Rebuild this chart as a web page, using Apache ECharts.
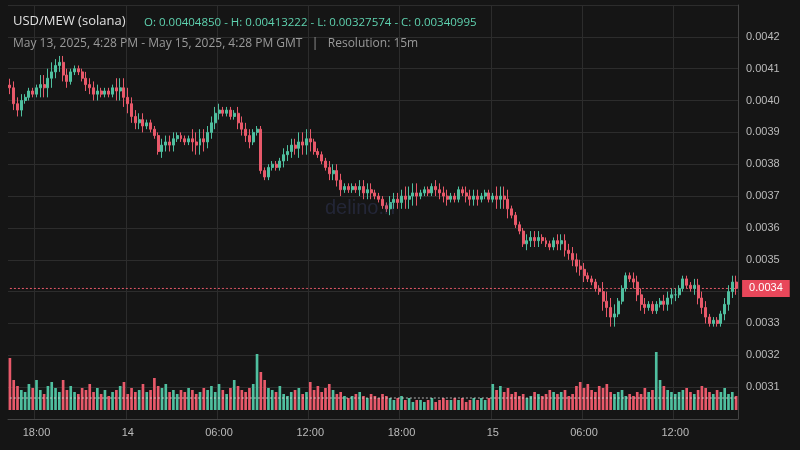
<!DOCTYPE html>
<html><head><meta charset="utf-8">
<script src="https://cdn.jsdelivr.net/npm/echarts@6/dist/echarts.min.js"></script>
<style>html,body{margin:0;background:#151515}#c{width:800px;height:450px}</style>
</head><body><div id="c"></div>
<script>
const startOpen = 0.0040485;
const lastClose = 0.00340995;
const closes = [
0.00404,0.00399,0.00397,0.00400, 0.00401,0.00403,0.00402,0.00404, 0.00405,0.00404,0.00407,0.00409,
0.00411,0.00412,0.00408,0.00406, 0.00409,0.00410,0.00409,0.00407, 0.00405,0.00404,0.00402,0.00403,
0.00402,0.00403,0.00402,0.00404, 0.00403,0.00404,0.00401,0.00399, 0.00395,0.00393,0.00394,0.00392,
0.00393,0.00391,0.00389,0.00384, 0.00386,0.00387,0.00386,0.00388, 0.00389,0.00388,0.00387,0.00388,
0.00387,0.00386,0.00388,0.00387, 0.00390,0.00393,0.00396,0.00397, 0.00396,0.00397,0.00395,0.00396,
0.00393,0.00391,0.00389,0.00387, 0.00390,0.00391,0.00378,0.00376, 0.00379,0.00380,0.00379,0.00381,
0.00383,0.00384,0.00386,0.00385, 0.00387,0.00386,0.00388,0.00387, 0.00384,0.00383,0.00381,0.00379,
0.00377,0.00378,0.00375,0.00372, 0.00373,0.00372,0.00373,0.00372, 0.00373,0.00371,0.00372,0.00371,
0.00370,0.00369,0.00367,0.00366, 0.00368,0.00369,0.00368,0.00370, 0.00369,0.00370,0.00371,0.00370,
0.00371,0.00372,0.00371,0.00373, 0.00372,0.00371,0.00370,0.00369, 0.00370,0.00369,0.00372,0.00371,
0.00370,0.00369,0.00370,0.00369, 0.00370,0.00371,0.00369,0.00370, 0.00369,0.00370,0.00369,0.00366,
0.00364,0.00361,0.00359,0.00355, 0.00356,0.00357,0.00356,0.00357, 0.00356,0.00355,0.00354,0.00356,
0.00355,0.00356,0.00353,0.00352, 0.00350,0.00348,0.00347,0.00345, 0.00344,0.00343,0.00341,0.00340,
0.00337,0.00335,0.00332,0.00333, 0.00337,0.00341,0.00345,0.00344, 0.00343,0.00339,0.00336,0.00335,
0.00336,0.00334,0.00336,0.00337, 0.00336,0.00338,0.00339,0.00339, 0.00341,0.00344,0.00342,0.00341,
0.00342,0.00338,0.00335,0.00332, 0.00330,0.00331,0.00330,0.00333, 0.00336,0.00340,0.00343,0.00341];
const wicks = [2,1,3,2,1,2,1,3,2,1,2,1,3,2,1,2,1,1,2,3,1,2,1,2,1,2,3,1,2,1,2,1,3,1,2,1,2,2,1,3,1,2,1,2,1,2,1,2];
const volumes = [
52,30,24,20, 18,26,22,30, 20,16,24,28, 22,18,30,20, 24,18,16,22, 20,26,18,22,
16,20,14,18, 20,24,28,16, 22,18,20,26, 18,20,32,24, 22,26,18,20, 16,20,18,22,
20,16,18,22, 20,24,18,26, 20,16,22,30, 24,20,18,22, 26,56,38,30, 22,20,18,24,
16,14,18,20, 22,16,18,28, 20,24,18,22, 26,20,16,18, 14,12,14,16, 18,14,12,16,
14,12,16,14, 12,10,12,14, 10,12,8,10, 10,8,10,12, 8,10,12,10, 10,12,10,12,
8,10,12,10, 12,10,12,26, 20,24,18,22, 16,18,14,16, 12,14,18,16, 14,16,20,18,
16,18,20,14, 16,24,28,22, 26,20,18,24, 22,26,18,16, 18,20,14,16, 14,18,16,22,
18,20,58,30, 24,20,18,16, 18,20,22,18, 16,20,24,22, 18,16,20,18, 22,16,18,14];
const volumeAverage = 12;
const cats=[], ohlc=[], vols=[];
let t = Date.UTC(2025,4,13,16,15);
let prev = startOpen;
for (let i=0;i<closes.length;i++){
  const d=new Date(t+i*900000);
  const hh=String(d.getUTCHours()).padStart(2,'0'), mm=String(d.getUTCMinutes()).padStart(2,'0');
  let lab = hh+':'+mm;
  if (lab==='00:00') lab = 'D'+d.getUTCDate();
  cats.push(lab);
  const o=prev, c=closes[i], w=wicks[Math.floor(i/4)]*0.00001;
  ohlc.push([o,c,Math.min(o,c)-w,Math.max(o,c)+w]);
  vols.push({value:volumes[i],itemStyle:{color:c>=o?'#4fbf9f':'#e8596a'}});
  prev=c;
}
const shown=['18:00','D14','06:00','12:00','D15'];
const ch=echarts.init(document.getElementById('c'));
ch.setOption({
  backgroundColor:'#151515', animation:false,
  title:[{text:'USD/MEW (solana)',left:8,top:10,textStyle:{color:'#e0e0e0',fontSize:13,fontWeight:'normal',fontFamily:'Open Sans'}},
    {text:'O: 0.00404850 - H: 0.00413222 - L: 0.00327574 - C: 0.00340995',left:139,top:12,textStyle:{color:'#5fd3b0',fontSize:11.5,fontWeight:'normal',fontFamily:'Open Sans'}},
    {text:'May 13, 2025, 4:28 PM - May 15, 2025, 4:28 PM GMT   |   Resolution: 15m',left:8,top:33,textStyle:{color:'#9a9a9a',fontSize:12,fontWeight:'normal',fontFamily:'Open Sans'}},
    {text:'delino.n',left:320,top:193,textStyle:{color:'rgba(80,90,160,0.25)',fontSize:20,fontWeight:'normal'}}],
  grid:[{left:8,right:62,top:5,bottom:31},{left:8,right:62,top:340,bottom:40}],
  xAxis:[{type:'category',data:cats,gridIndex:0,boundaryGap:true,
     axisLine:{lineStyle:{color:'#444'}},axisTick:{show:false},
     axisLabel:{color:'#bbb',fontSize:11,margin:8,interval:(i,v)=>shown.includes(v),
       formatter:v=>v.startsWith('D')?v.slice(1):v},
     splitLine:{show:true,interval:(i,v)=>shown.includes(v),lineStyle:{color:'#2c2c2c'}}},
    {type:'category',data:cats,gridIndex:1,show:false}],
  yAxis:[{type:'value',position:'right',min:0.0030,max:0.0043,interval:0.0001,gridIndex:0,
     axisLabel:{color:'#bbb',fontSize:11,margin:8,showMinLabel:false,showMaxLabel:false,formatter:v=>v.toFixed(4)},
     axisLine:{show:true,lineStyle:{color:'#444'}},splitLine:{lineStyle:{color:'#2c2c2c'}}},
    {type:'value',gridIndex:1,min:0,max:70,show:false}],
  series:[{type:'candlestick',data:ohlc,xAxisIndex:0,yAxisIndex:0,barWidth:'65%',
     itemStyle:{color:'#4fbf9f',color0:'#e8596a',borderColor:'#4fbf9f',borderColor0:'#e8596a'}},
    {type:'line',data:cats.map(()=>lastClose),xAxisIndex:0,yAxisIndex:0,symbol:'none',silent:true,
     lineStyle:{color:'#e8596a',type:[2,2],width:1},z:1,
     endLabel:{show:true,formatter:'0.0034',backgroundColor:'#e8475a',color:'#fff',padding:[3,7],fontSize:11,distance:6}},
    {type:'bar',data:vols,xAxisIndex:1,yAxisIndex:1,barWidth:'70%',z:2},
    {type:'line',data:cats.map(()=>volumeAverage),xAxisIndex:1,yAxisIndex:1,symbol:'none',silent:true,
     lineStyle:{color:'#dddddd',type:[2,2],width:1,opacity:0.8},z:10,zlevel:1}]
});
</script></body></html>
